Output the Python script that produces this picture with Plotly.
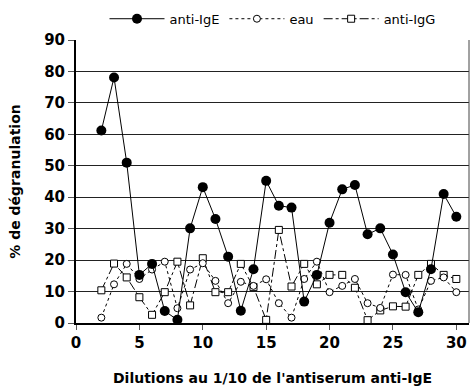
import plotly.graph_objects as go

dilutions = list(range(2, 31))
anti_ige = [61.2, 78.1, 51, 15.3, 18.8, 3.8, 1, 30.1, 43.2, 33.1, 21.1, 3.9, 17.1, 45.2, 37.3,
            36.7, 6.8, 15.3, 31.9, 42.5, 43.9, 28.2, 30.1, 21.8, 9.8, 3.4, 17.1, 41, 33.8]
eau = [1.7, 12.3, 18.8, 14, 17, 19.5, 4.7, 17, 19, 13.4, 6.3, 13.1, 11.8, 13.9, 6.3,
       1.7, 14, 19.5, 9.8, 11.8, 14, 6.3, 4.8, 15.4, 15.3, 4.3, 13.4, 14.5, 9.8]
anti_igg = [10.4, 18.9, 14.5, 8.2, 2.6, 9.8, 19.5, 5.6, 20.6, 9.8, 9.8, 18.8, 11.4, 1.0, 29.6,
            11.6, 18.8, 12.3, 15.3, 15.3, 11.2, 0.9, 4.0, 5.3, 5.2, 15.3, 18.8, 15.3, 14]

x_ticks = [0, 5, 10, 15, 20, 25, 30]
y_ticks = [0, 10, 20, 30, 40, 50, 60, 70, 80, 90]

fig = go.Figure()
fig.add_trace(go.Scatter(
    x=dilutions, y=anti_igg, name="anti-IgG", mode="lines+markers", legendrank=3,
    line=dict(color="black", width=1, dash="dashdot"),
    marker=dict(symbol="square", size=7, color="white", line=dict(color="black", width=1)),
))
fig.add_trace(go.Scatter(
    x=dilutions, y=eau, name="eau", mode="lines+markers", legendrank=2,
    line=dict(color="black", width=1, dash="dot"),
    marker=dict(symbol="circle", size=7, color="white", line=dict(color="black", width=1)),
))
fig.add_trace(go.Scatter(
    x=dilutions, y=anti_ige, name="anti-IgE", mode="lines+markers", legendrank=1,
    line=dict(color="black", width=1),
    marker=dict(symbol="circle", size=10, color="black"),
))

fig.update_layout(
    width=470, height=386,
    margin=dict(l=76, r=1, t=40, b=63),
    plot_bgcolor="white", paper_bgcolor="white",
    font=dict(family="DejaVu Sans", color="black"),
    showlegend=True,
    legend=dict(orientation="h", x=0.5, y=1.075, xanchor="center", yanchor="middle",
                font=dict(size=13, family="DejaVu Sans"),
                itemwidth=55, tracegroupgap=0),
    xaxis=dict(range=[0, 31], tickvals=x_ticks, ticktext=[str(v) for v in x_ticks],
               showgrid=False, zeroline=False, showline=True, linecolor="black", linewidth=2,
               ticks="outside", ticklen=5, tickcolor="#555", tickwidth=1,
               tickfont=dict(size=15, family="DejaVu Sans", weight="bold"),
               title=dict(text="Dilutions au 1/10 de l'antiserum anti-IgE",
                          font=dict(size=14, family="DejaVu Sans", weight="bold"), standoff=22),
               mirror=False),
    yaxis=dict(range=[0, 90], tickvals=y_ticks, ticktext=[str(v) for v in y_ticks],
               showgrid=True, gridcolor="#222", gridwidth=1, zeroline=False,
               showline=True, linecolor="black", linewidth=2,
               ticks="outside", ticklen=6, tickcolor="#555", tickwidth=1,
               tickfont=dict(size=15, family="DejaVu Sans", weight="bold"),
               title=dict(text="% de dégranulation",
                          font=dict(size=14, family="DejaVu Sans", weight="bold"), standoff=20)),
)
# right border of plot area
fig.add_shape(type="line", xref="paper", yref="paper", x0=1, x1=1, y0=0, y1=1,
              line=dict(color="#444", width=1))
fig.write_html("out.html")
